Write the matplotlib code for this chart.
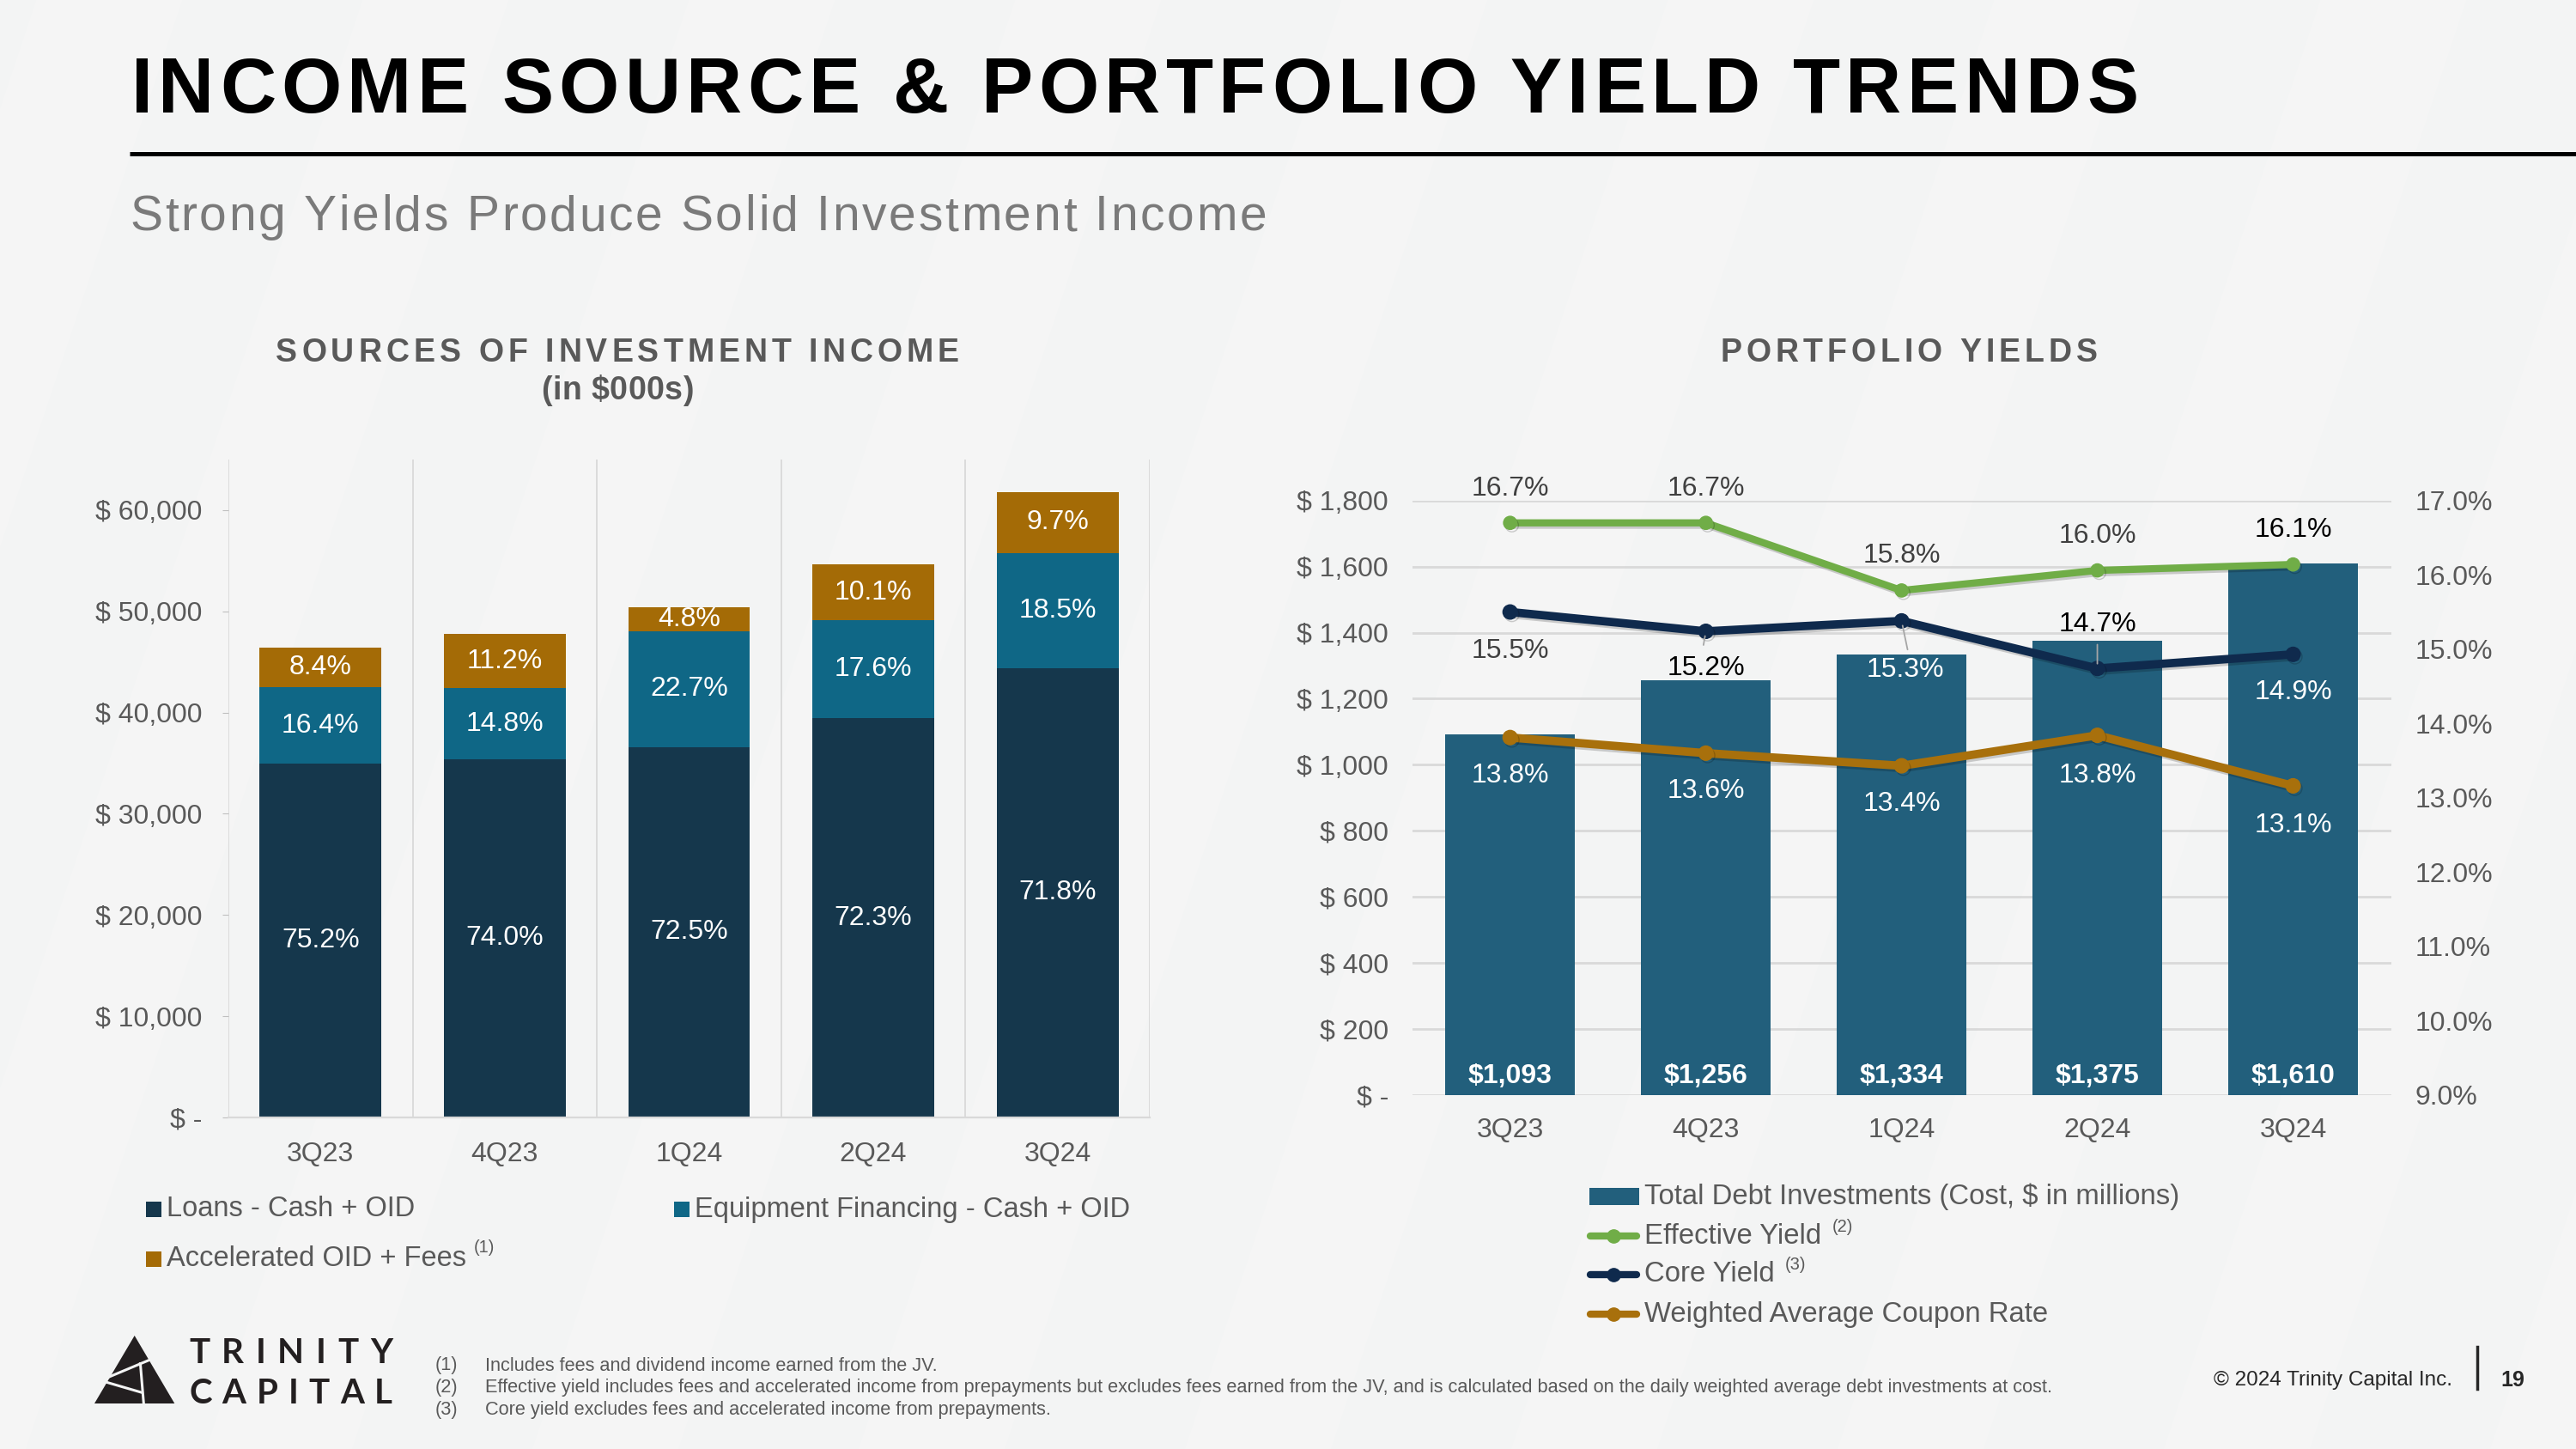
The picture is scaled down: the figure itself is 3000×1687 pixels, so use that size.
import numpy as np
import matplotlib
matplotlib.use('Agg')
import matplotlib.pyplot as plt
import matplotlib.patheffects as pe
from matplotlib import font_manager, ft2font
from matplotlib.patches import Rectangle, Polygon

# ---------------- data ----------------
quarters = ['3Q23', '4Q23', '1Q24', '2Q24', '3Q24']

# sources of investment income ($000s)
loans = [34940, 35390, 36590, 39420, 44390]
equip = [7590, 7000, 11440, 9670, 11400]
accel = [3860, 5410, 2390, 5540, 5980]
loans_pct = ['75.2%', '74.0%', '72.5%', '72.3%', '71.8%']
equip_pct = ['16.4%', '14.8%', '22.7%', '17.6%', '18.5%']
accel_pct = ['8.4%', '11.2%', '4.8%', '10.1%', '9.7%']

# portfolio yields
debt = [1093, 1256, 1334, 1375, 1610]
effective = [16.7, 16.7, 15.79, 16.06, 16.14]
core = [15.5, 15.24, 15.38, 14.74, 14.93]
coupon = [13.81, 13.6, 13.43, 13.84, 13.16]
effective_lbl = ['16.7%', '16.7%', '15.8%', '16.0%', '16.1%']
core_lbl = ['15.5%', '15.2%', '15.3%', '14.7%', '14.9%']
coupon_lbl = ['13.8%', '13.6%', '13.4%', '13.8%', '13.1%']

footnotes = [
    'Includes fees and dividend income earned from the JV.',
    'Effective yield includes fees and accelerated income from prepayments but excludes fees earned from the JV, '
    'and is calculated based on the daily weighted average debt investments at cost.',
    'Core yield excludes fees and accelerated income from prepayments.',
]

C_LOANS = '#15374c'
C_EQUIP = '#0f6786'
C_ACCEL = '#a46b06'
C_DEBT = '#225f7c'
C_EFF = '#70ad47'
C_CORE = '#0f2a4d'
C_CPN = '#a8700c'
GRAY = '#595959'
DGRAY = '#404040'
GRID = '#d9d9d9'
BG = '#f3f4f4'
FAM = 'Liberation Sans'

plt.rcParams['font.family'] = FAM

W, H = 3000, 1687
fig = plt.figure(figsize=(30, 16.87), dpi=100, facecolor=BG)

# background stripes
bg = fig.add_axes([0, 0, 1, 1], zorder=0)
bg.set_xlim(0, W); bg.set_ylim(H, 0); bg.axis('off')
for x0 in range(-900, 3400, 380):
    bg.add_patch(Polygon([(x0, H), (x0 + 170, H), (x0 + 170 + H / 3, 0), (x0 + H / 3, 0)],
                         color='white', alpha=0.18, lw=0))

ov = fig.add_axes([0, 0, 1, 1], zorder=5)
ov.set_xlim(0, W); ov.set_ylim(H, 0); ov.axis('off')


def fnt(size, weight='normal', family=FAM):
    return font_manager.FontProperties(family=family, size=size, weight=weight)


def advances(s, fp):
    f = ft2font.FT2Font(font_manager.findfont(fp))
    f.set_size(fp.get_size_in_points(), 100)
    return [f.load_char(ord(c)).linearHoriAdvance / 65536 for c in s]


def textw(s, size, weight='normal'):
    return sum(advances(s, fnt(size, weight)))


def spaced(x, y, s, size, weight='normal', color='black', width=None, gap=0.0, ha='left', family=FAM):
    fp = fnt(size, weight, family)
    adv = advances(s, fp)
    if width is not None:
        gap = (width - sum(adv)) / (len(s) - 1)
    total = sum(adv) + gap * (len(s) - 1)
    x0 = x - total / 2 if ha == 'center' else x
    for c, a in zip(s, adv):
        if c != ' ':
            ov.text(x0, y, c, fontproperties=fp, color=color, ha='left', va='baseline')
        x0 += a + gap


# ---------------- header ----------------
spaced(153, 131, 'INCOME SOURCE & PORTFOLIO YIELD TRENDS', 65, 'bold', 'black', width=2338)
ov.plot([151, W], [179, 179], color='black', lw=3.6, solid_capstyle='butt')
spaced(151, 268, 'Strong Yields Produce Solid Investment Income', 41, 'normal', '#7a7a7a', width=1324)
spaced(719, 421, 'SOURCES OF INVESTMENT INCOME', 27, 'bold', GRAY, width=796, ha='center')
spaced(719, 465, '(in $000s)', 27, 'bold', GRAY, width=178, ha='center')
spaced(2223, 421, 'PORTFOLIO YIELDS', 27, 'bold', GRAY, width=440, ha='center')

# ---------------- left chart ----------------
x = np.arange(len(quarters))
ax1 = fig.add_axes([266 / W, 1 - 1301 / H, 1073 / W, 766 / H], zorder=1)
ax1.set_facecolor('none')
b1 = np.array(loans)
b2 = b1 + np.array(equip)
ax1.bar(x, loans, width=0.66, color=C_LOANS, zorder=2)
ax1.bar(x, equip, width=0.66, bottom=b1, color=C_EQUIP, zorder=2)
ax1.bar(x, accel, width=0.66, bottom=b2, color=C_ACCEL, zorder=2)
for i in range(len(quarters)):
    ax1.text(i, loans[i] / 2, loans_pct[i], ha='center', va='center', color='white', fontsize=23, zorder=3)
    ax1.text(i, b1[i] + equip[i] / 2, equip_pct[i], ha='center', va='center', color='white', fontsize=23, zorder=3)
    ax1.text(i, b2[i] + accel[i] / 2, accel_pct[i], ha='center', va='center', color='white', fontsize=23, zorder=3)
for b in np.arange(-0.5, len(quarters), 1.0):
    ax1.axvline(b, color=GRID, lw=1.3, zorder=1)
ax1.set_xlim(-0.5, len(quarters) - 0.5)
ax1.set_ylim(0, 65000)
yt = np.arange(0, 60001, 10000)
ax1.set_yticks(yt)
ax1.set_yticklabels(['$ -' if v == 0 else f'$ {v:,}' for v in yt])
ax1.set_xticks(x)
ax1.set_xticklabels(quarters)
for s in ['top', 'right', 'left']:
    ax1.spines[s].set_visible(False)
ax1.spines['bottom'].set_color(GRID)
ax1.spines['bottom'].set_linewidth(1.6)
ax1.tick_params(axis='y', length=5, color='#bfbfbf', pad=17, labelsize=23, labelcolor=GRAY)
ax1.tick_params(axis='x', length=0, pad=20, labelsize=23, labelcolor=GRAY)

# left legend
ov.add_patch(Rectangle((170, 1399), 18, 18, color=C_LOANS, lw=0))
ov.text(194, 1408, 'Loans - Cash + OID', fontsize=23.5, color=GRAY, va='center')
ov.add_patch(Rectangle((785, 1399), 18, 18, color=C_EQUIP, lw=0))
ov.text(809, 1408, 'Equipment Financing - Cash + OID', fontsize=23.5, color=GRAY, va='center')
ov.add_patch(Rectangle((170, 1457), 18, 18, color=C_ACCEL, lw=0))
ov.text(194, 1466, 'Accelerated OID + Fees', fontsize=23.5, color=GRAY, va='center')
ov.text(194 + textw('Accelerated OID + Fees', 23.5) + 9, 1452, '(1)', fontsize=14.5, color=GRAY, va='center')

# ---------------- right chart ----------------
ax = fig.add_axes([1644.7 / W, 1 - 1274.7 / H, 1139.8 / W, 691.9 / H], zorder=2)
ax.set_facecolor('none')
ax.set_axisbelow(True)
ax.bar(x, debt, width=0.66, color=C_DEBT, zorder=2)
for i, v in enumerate(debt):
    ax.annotate(f'${v:,}', (i, 0), xytext=(0, 15.5), textcoords='offset points', ha='center', va='center',
                color='white', fontsize=23, weight='bold', zorder=3)
ax.set_xlim(-0.5, len(quarters) - 0.5)
ax.set_ylim(0, 1800)
yt2 = np.arange(0, 1801, 200)
ax.set_yticks(yt2)
ax.set_yticklabels(['$ -' if v == 0 else f'$ {v:,}' for v in yt2])
ax.set_xticks(x)
ax.set_xticklabels(quarters)
ax.yaxis.grid(True, color=GRID, lw=2)
for s in ax.spines.values():
    s.set_visible(False)
ax.tick_params(axis='y', length=0, pad=20, labelsize=23, labelcolor=GRAY)
ax.tick_params(axis='x', length=0, pad=19, labelsize=23, labelcolor=GRAY)

ax2 = ax.twinx()
ax2.set_ylim(9, 17)
ax2.set_yticks(np.arange(9, 17.01, 1))
ax2.set_yticklabels([f'{v:.1f}%' for v in np.arange(9, 17.01, 1)])
for s in ax2.spines.values():
    s.set_visible(False)
ax2.tick_params(axis='y', length=0, pad=20, labelsize=23, labelcolor=GRAY)

shadow = [pe.SimpleLineShadow(offset=(1.5, -2), alpha=0.18), pe.Normal()]
ax2.plot(x, coupon, color=C_CPN, lw=7, marker='o', ms=12, path_effects=shadow, zorder=3)
ax2.plot(x, core, color=C_CORE, lw=7, marker='o', ms=12, path_effects=shadow, zorder=3)
ax2.plot(x, effective, color=C_EFF, lw=6, marker='o', ms=11, path_effects=shadow, zorder=3)

# leader lines for core yield labels (offsets in points)
leaders = {1: ((-2, -11.5), 4), 2: ((5, -24), 4), 3: ((0, 20), 4)}
for i, (xy, shr) in leaders.items():
    ax2.annotate('', xy=(i, core[i]), xytext=xy, textcoords='offset points',
                 arrowprops=dict(arrowstyle='-', color='#a6a6a6', lw=1.3, shrinkA=0, shrinkB=shr), zorder=4)

eff_col = [DGRAY, DGRAY, DGRAY, DGRAY, 'black']
core_col = [DGRAY, 'black', 'white', 'black', 'white']
core_dy = [-45, -43, -57, 51, -44]
core_dx = [0, 0, 4, 0, 0]
cpn_dy = [-44, -44, -44, -47, -46]
for i in range(len(quarters)):
    ax2.annotate(effective_lbl[i], (i, effective[i]), xytext=(0, 40 * 0.72), textcoords='offset points',
                 ha='center', va='center', fontsize=23, color=eff_col[i], zorder=5)
    ax2.annotate(core_lbl[i], (i, core[i]), xytext=(core_dx[i] * 0.72, core_dy[i] * 0.72),
                 textcoords='offset points', ha='center', va='center', fontsize=23, color=core_col[i], zorder=5)
    ax2.annotate(coupon_lbl[i], (i, coupon[i]), xytext=(0, cpn_dy[i] * 0.72), textcoords='offset points',
                 ha='center', va='center', fontsize=23, color='white', zorder=5)

# right legend
ov.add_patch(Rectangle((1851, 1383), 58, 20, color=C_DEBT, lw=0))
ov.text(1915, 1393, 'Total Debt Investments (Cost, $ in millions)', fontsize=23.7, color=GRAY, va='center')
rows = [(1439, C_EFF, 'Effective Yield', '(2)'), (1484, C_CORE, 'Core Yield', '(3)'),
        (1530, C_CPN, 'Weighted Average Coupon Rate', None)]
for y, c, name, sup in rows:
    ov.plot([1852, 1906], [y, y], color=c, lw=6, solid_capstyle='round')
    ov.plot([1879], [y], 'o', color=c, ms=11)
    ov.text(1915, y, name, fontsize=23.7, color=GRAY, va='center')
    if sup:
        ov.text(1915 + textw(name, 23.7) + 10, y - 11, sup, fontsize=14.5, color=GRAY, va='center')

# ---------------- footer ----------------
# logo
ov.add_patch(Polygon([(156.7, 1555), (110, 1634), (203.3, 1634)], closed=True, color='#231f20', lw=0))
for (xa, ya), (xb, yb) in [((120, 1606), (182, 1580)), ((118, 1607.5), (166, 1621.5)),
                           ((163.3, 1586), (167.5, 1636))]:
    ov.plot([xa, xb], [ya, yb], color=BG, lw=2.2, solid_capstyle='butt')
spaced(220, 1587, 'TRINITY', 29, 'bold', '#231f20', width=237, family='Lato')
spaced(220, 1634, 'CAPITAL', 29, 'bold', '#231f20', width=237, family='Lato')

for k, (yy, txt) in enumerate(zip([1590, 1616, 1642], footnotes)):
    ov.text(507, yy, f'({k + 1})', fontsize=15.7, color=GRAY, va='center')
    ov.text(565, yy, txt, fontsize=15.7, color=GRAY, va='center')

ov.text(2856, 1607, '\u00a9 2024 Trinity Capital Inc.', ha='right', va='center', fontsize=17.5, color='#262626')
ov.plot([2885, 2885], [1568, 1617], color='#262626', lw=2.5)
ov.text(2926, 1607, '19', ha='center', va='center', fontsize=18, weight='bold', color='#262626')

fig.savefig('out.png', dpi=100, facecolor=BG)
